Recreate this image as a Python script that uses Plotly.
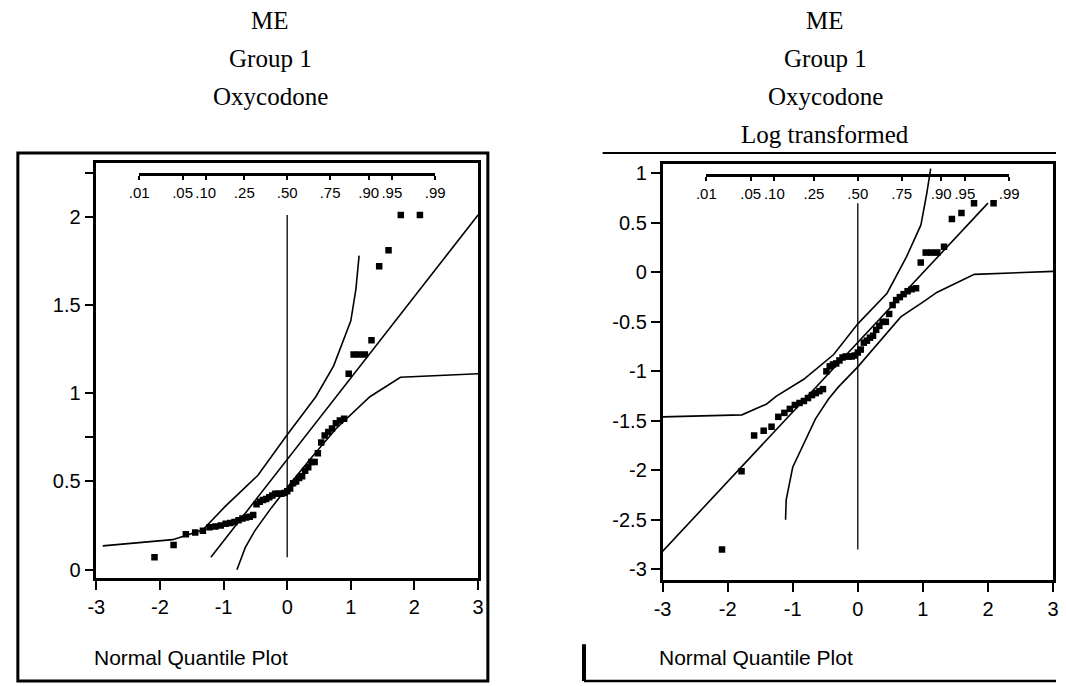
import plotly.graph_objects as go
from statistics import NormalDist

W, H = 1066, 686

# ---------------- data ----------------
quantile_x = [-2.086, -1.786, -1.593, -1.446, -1.325, -1.221, -1.128, -1.044, -0.967,
              -0.895, -0.828, -0.765, -0.704, -0.646, -0.589, -0.535, -0.482, -0.431,
              -0.381, -0.331, -0.282, -0.234, -0.187, -0.140, -0.093, -0.046, 0.0,
              0.046, 0.093, 0.140, 0.187, 0.234, 0.282, 0.331, 0.381, 0.431, 0.482,
              0.535, 0.589, 0.646, 0.704, 0.765, 0.828, 0.895, 0.967, 1.044, 1.128,
              1.221, 1.325, 1.446, 1.593, 1.786, 2.086]

oxy = [0.07, 0.14, 0.20, 0.21, 0.22, 0.24, 0.245, 0.25, 0.26, 0.265, 0.27, 0.28,
       0.29, 0.295, 0.30, 0.31, 0.37, 0.385, 0.395, 0.40, 0.41, 0.42, 0.43, 0.43,
       0.43, 0.435, 0.445, 0.46, 0.49, 0.50, 0.52, 0.53, 0.56, 0.58, 0.61, 0.61,
       0.66, 0.72, 0.76, 0.78, 0.80, 0.83, 0.845, 0.855, 1.11, 1.22, 1.22, 1.22,
       1.30, 1.72, 1.81, 2.01, 2.01]

log_oxy = [-2.80, -2.01, -1.65, -1.60, -1.56, -1.46, -1.42, -1.38, -1.34, -1.32,
           -1.30, -1.27, -1.24, -1.22, -1.20, -1.18, -1.00, -0.95, -0.93, -0.92,
           -0.89, -0.86, -0.85, -0.85, -0.85, -0.84, -0.81, -0.78, -0.71, -0.69,
           -0.66, -0.64, -0.58, -0.54, -0.50, -0.50, -0.42, -0.33, -0.28, -0.25,
           -0.22, -0.19, -0.17, -0.16, 0.10, 0.20, 0.20, 0.20, 0.26, 0.54, 0.60,
           0.70, 0.70]

# fitted normal reference lines (endpoints)
ref_left_x = [-1.20, 3.0]
ref_left_y = [0.07, 2.01]
ref_right_x = [-3.0, 2.0]
ref_right_y = [-2.82, 0.70]

# confidence bands
band_left_up_x = [-2.9, -1.8, -1.33, -0.97, -0.46, 0.0, 0.45, 0.73, 1.0, 1.08, 1.13]
band_left_up_y = [0.135, 0.17, 0.225, 0.36, 0.535, 0.765, 0.98, 1.155, 1.41, 1.59, 1.78]
band_left_lo_x = [-0.79, -0.66, -0.51, -0.25, 0.0, 0.37, 0.77, 1.3, 1.78, 3.0]
band_left_lo_y = [0.0, 0.125, 0.22, 0.35, 0.465, 0.63, 0.80, 0.98, 1.09, 1.11]

band_right_up_x = [-3.0, -1.78, -1.40, -1.25, -0.83, -0.37, 0.0, 0.45, 0.75, 0.97, 1.06, 1.12]
band_right_up_y = [-1.46, -1.44, -1.33, -1.25, -1.08, -0.83, -0.52, -0.21, 0.16, 0.48, 0.80, 1.05]
band_right_lo_x = [-1.11, -1.10, -1.0, -0.82, -0.65, -0.45, -0.3, 0.0, 0.33, 0.66, 1.0, 1.22, 1.79, 3.0]
band_right_lo_y = [-2.50, -2.30, -1.97, -1.72, -1.48, -1.28, -1.16, -0.955, -0.70, -0.45, -0.30, -0.20, -0.02, 0.01]

prob_ticks = [0.01, 0.05, 0.10, 0.25, 0.50, 0.75, 0.90, 0.95, 0.99]
prob_labels = [".01", ".05", ".10", ".25", ".50", ".75", ".90", ".95", ".99"]

left_yticks = [0, 0.5, 0.75, 1, 1.5, 2, 2.25]
left_yticklabels = ["0", "0.5", "", "1", "1.5", "2", ""]
right_yticks = [-3, -2.5, -2, -1.5, -1, -0.5, 0, 0.5, 1]
right_yticklabels = ["-3", "-2.5", "-2", "-1.5", "-1", "-0.5", "0", "0.5", "1"]
xticks = [-3, -2, -1, 0, 1, 2, 3]
xticklabels = ["-3", "-2", "-1", "0", "1", "2", "3"]

titles_left = ["ME", "Group 1", "Oxycodone"]
titles_right = ["ME", "Group 1", "Oxycodone", "Log transformed"]

# ---------------- helpers ----------------
def fx(p):
    return p / W

def fy(p):
    return 1 - p / H

SERIF = "Times New Roman, Liberation Serif, serif"
SANS = "Arial, Liberation Sans, sans-serif"
LINE = dict(color="black", width=1.6)

fig = go.Figure()

def add_panel(xa, ya, yvals, ref_x, ref_y, up_x, up_y, lo_x, lo_y):
    fig.add_trace(go.Scatter(x=up_x, y=up_y, mode="lines", line=LINE,
                             xaxis=xa, yaxis=ya, hoverinfo="skip"))
    fig.add_trace(go.Scatter(x=lo_x, y=lo_y, mode="lines", line=LINE,
                             xaxis=xa, yaxis=ya, hoverinfo="skip"))
    fig.add_trace(go.Scatter(x=ref_x, y=ref_y, mode="lines", line=LINE,
                             xaxis=xa, yaxis=ya, hoverinfo="skip"))
    fig.add_trace(go.Scatter(x=[0, 0], y=[min(yvals), max(yvals)], mode="lines",
                             line=dict(color="black", width=1.3),
                             xaxis=xa, yaxis=ya, hoverinfo="skip"))
    fig.add_trace(go.Scatter(x=quantile_x, y=yvals, mode="markers",
                             marker=dict(symbol="square", size=6.5, color="black"),
                             xaxis=xa, yaxis=ya))

add_panel("x", "y", oxy, ref_left_x, ref_left_y, band_left_up_x, band_left_up_y,
          band_left_lo_x, band_left_lo_y)
add_panel("x2", "y2", log_oxy, ref_right_x, ref_right_y, band_right_up_x, band_right_up_y,
          band_right_lo_x, band_right_lo_y)

# invisible traces so the probability axes get drawn
zq = NormalDist().inv_cdf(0.99)
fig.add_trace(go.Scatter(x=[0], y=[None], xaxis="x3", yaxis="y", mode="markers",
                         marker=dict(opacity=0), hoverinfo="skip"))
fig.add_trace(go.Scatter(x=[0], y=[None], xaxis="x4", yaxis="y2", mode="markers",
                         marker=dict(opacity=0), hoverinfo="skip"))

prob_pos = [NormalDist().inv_cdf(p) for p in prob_ticks]

# geometry (pixels)
L_x0, L_x1, L_y0, L_y1 = 88, 477, 163, 580
R_x0, R_x1, R_y0, R_y1 = 665, 1063, 164, 582
L_range_y = [(572 - 580) / 177.5, (572 - 163) / 177.5]
R_range_y = [(273 - 582) / 99.5, (273 - 164) / 99.5]

def sub_domain(x0, x1):
    scale = (x1 - x0) / 6.0
    a = x0 + (3 - zq) * scale
    b = x0 + (3 + zq) * scale
    return [fx(a), fx(b)]

common_x = dict(range=[-3, 3], tickvals=xticks, ticktext=xticklabels, showgrid=False,
                zeroline=False, showline=True, linewidth=2.5, linecolor="black",
                mirror=True, ticks="outside", ticklen=10, tickwidth=2, tickcolor="black",
                tickfont=dict(family=SANS, size=20, color="black"))
common_y = dict(showgrid=False, zeroline=False, showline=True, linewidth=2.5,
                linecolor="black", mirror=True, ticks="outside", ticklen=9, tickwidth=2,
                tickcolor="black", tickfont=dict(family=SANS, size=20, color="black"))
prob_ax = dict(range=[-zq, zq], tickvals=prob_pos, ticktext=prob_labels, showgrid=False,
               zeroline=False, showline=True, linewidth=2.5, linecolor="black",
               ticks="outside", ticklen=4, tickwidth=2, tickcolor="black",
               tickfont=dict(family=SANS, size=15, color="black"), anchor="free",
               side="bottom")

fig.update_layout(
    width=W, height=H,
    margin=dict(l=0, r=0, t=0, b=0),
    paper_bgcolor="white", plot_bgcolor="rgba(0,0,0,0)",
    showlegend=False,
    xaxis=dict(domain=[fx(L_x0), fx(L_x1)], anchor="y", **common_x),
    yaxis=dict(domain=[fy(L_y1), fy(L_y0)], anchor="x", range=L_range_y,
               tickvals=left_yticks, ticktext=left_yticklabels, **common_y),
    xaxis2=dict(domain=[fx(R_x0), fx(R_x1)], anchor="y2", **common_x),
    yaxis2=dict(domain=[fy(R_y1), fy(R_y0)], anchor="x2", range=R_range_y,
                tickvals=right_yticks, ticktext=right_yticklabels, **common_y),
    xaxis3=dict(domain=sub_domain(L_x0, L_x1), position=fy(174), **prob_ax),
    xaxis4=dict(domain=sub_domain(R_x0, R_x1), position=fy(175), **prob_ax),
)

# frames
shapes = [
    dict(type="rect", xref="paper", yref="paper", x0=fx(8), x1=fx(487), y0=fy(684), y1=fy(153),
         line=dict(color="black", width=3)),
    dict(type="line", xref="paper", yref="paper", x0=fx(604), x1=fx(1066), y0=fy(153), y1=fy(153),
         line=dict(color="black", width=2)),
    dict(type="line", xref="paper", yref="paper", x0=fx(585), x1=fx(1066), y0=fy(684), y1=fy(684),
         line=dict(color="black", width=2.5)),
    dict(type="line", xref="paper", yref="paper", x0=fx(585), x1=fx(585), y0=fy(684), y1=fy(647),
         line=dict(color="black", width=4)),
]
fig.update_layout(shapes=shapes)

annotations = []
title_rows = [20, 58, 96, 134]
for i, t in enumerate(titles_left):
    annotations.append(dict(text=t, x=fx(265), y=fy(title_rows[i]), xref="paper", yref="paper",
                            xanchor="center", yanchor="middle", showarrow=False,
                            font=dict(family=SERIF, size=25, color="black")))
for i, t in enumerate(titles_right):
    annotations.append(dict(text=t, x=fx(831), y=fy(title_rows[i]), xref="paper", yref="paper",
                            xanchor="center", yanchor="middle", showarrow=False,
                            font=dict(family=SERIF, size=25, color="black")))
for xpix in (84, 659):
    annotations.append(dict(text="Normal Quantile Plot", x=fx(xpix), y=fy(660), xref="paper",
                            yref="paper", xanchor="left", yanchor="middle", showarrow=False,
                            font=dict(family=SANS, size=21, color="black")))
fig.update_layout(annotations=annotations)

fig.write_html("out.html")
